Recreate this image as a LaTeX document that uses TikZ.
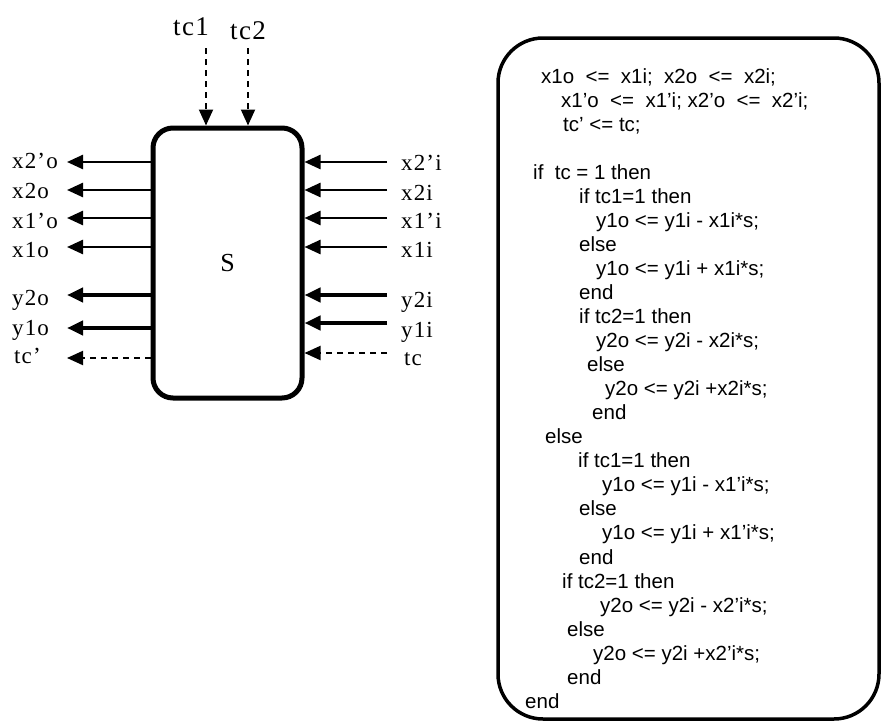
\documentclass[tikz,border=0pt]{standalone}
\usepackage{fontspec}
\setmainfont{Liberation Serif}
\newfontfamily\codefont{Liberation Sans}
\newfontfamily\lblfont[LetterSpace=5]{Liberation Serif}
\usetikzlibrary{arrows.meta}
\begin{document}
\begin{tikzpicture}[x=1pt,y=-1pt,
  lbl/.style={anchor=base west,inner sep=0pt,font=\lblfont\fontsize{23}{25}\selectfont},
  toplbl/.style={anchor=base west,inner sep=0pt,font=\lblfont\fontsize{27}{29}\selectfont},
  codeln/.style={anchor=base west,inner sep=0pt,font=\codefont\fontsize{20.5}{24}\selectfont},
  tip/.style={-{Triangle[length=16pt,width=14pt]}},
  xarr/.style={tip,line width=2.5pt},
  yarr/.style={tip,line width=4pt},
  darr/.style={tip,line width=2pt,dash pattern=on 6pt off 5pt}]
\useasboundingbox (0,0) rectangle (881,723);
% block S
\node[draw,line width=5pt,rounded corners=20pt,minimum width=149pt,minimum height=270pt,
  font=\fontsize{26}{28}\selectfont,inner sep=0pt] (S) at (227.5,263) {S};
% top inputs
\node[toplbl] (tc1) at (173,35) {tc1};
\node[toplbl] (tc2) at (230,39) {tc2};
\coordinate (a1) at (206,48);
\coordinate (a2) at (248,48);
\draw[darr] (a1) -- (a1 |- S.north);
\draw[darr] (a2) -- (a2 |- S.north);
% left outputs
\node[lbl] (lx2po) at (12,168) {x2’o};
\node[lbl] (lx2o)  at (12,198) {x2o};
\node[lbl] (lx1po) at (12,228) {x1’o};
\node[lbl] (lx1o)  at (12,257) {x1o};
\node[lbl] (ly2o)  at (12,305) {y2o};
\node[lbl] (ly1o)  at (12,335) {y1o};
\node[lbl] (ltco)  at (14,363) {tc’};
\coordinate (ox2p) at (67,162);
\coordinate (ox2)  at (67,190);
\coordinate (ox1p) at (67,218);
\coordinate (ox1)  at (67,247);
\coordinate (oy2)  at (67,295);
\coordinate (oy1)  at (67,328);
\coordinate (otc)  at (67,358);
\draw[xarr] (S.west |- ox2p) -- (ox2p);
\draw[xarr] (S.west |- ox2) -- (ox2);
\draw[xarr] (S.west |- ox1p) -- (ox1p);
\draw[xarr] (S.west |- ox1) -- (ox1);
\draw[yarr] (S.west |- oy2) -- (oy2);
\draw[yarr] (S.west |- oy1) -- (oy1);
\draw[darr] (S.west |- otc) -- (otc);
% right inputs
\node[lbl] (lx2pi) at (401,170) {x2’i};
\node[lbl] (lx2i)  at (401,200) {x2i};
\node[lbl] (lx1pi) at (401,228) {x1’i};
\node[lbl] (lx1i)  at (401,257) {x1i};
\node[lbl] (ly2i)  at (401,307) {y2i};
\node[lbl] (ly1i)  at (401,337) {y1i};
\node[lbl] (ltci)  at (404,365) {tc};
\coordinate (ix2p) at (387,162);
\coordinate (ix2)  at (387,190);
\coordinate (ix1p) at (387,218);
\coordinate (ix1)  at (387,247);
\coordinate (iy2)  at (387,295);
\coordinate (iy1)  at (387,323);
\coordinate (itc)  at (387,353);
\draw[xarr] (ix2p) -- (S.east |- ix2p);
\draw[xarr] (ix2) -- (S.east |- ix2);
\draw[xarr] (ix1p) -- (S.east |- ix1p);
\draw[xarr] (ix1) -- (S.east |- ix1);
\draw[yarr] (iy2) -- (S.east |- iy2);
\draw[yarr] (iy1) -- (S.east |- iy1);
\draw[darr] (itc) -- (S.east |- itc);
% code box
\node[draw,line width=3.5pt,rounded corners=45pt,minimum width=381pt,minimum height=681pt] (code) at (688.5,378.5) {};
\node[codeln] (c0)  at (541,83)     {x1o~~<=~~x1i;~~x2o~~<=~~x2i;};
\node[codeln] (c1)  at (561,107.05) {x1’o~~<=~~x1’i;~x2’o~~<=~~x2’i;};
\node[codeln] (c2)  at (563,131.1)  {tc’~<=~tc;};
\node[codeln] (c4)  at (533,179.2)  {if~~tc~=~1~then};
\node[codeln] (c5)  at (579,203.25) {if tc1=1 then};
\node[codeln] (c6)  at (596,227.3)  {y1o <= y1i - x1i*s;};
\node[codeln] (c7)  at (579,251.35) {else};
\node[codeln] (c8)  at (596,275.4)  {y1o <= y1i + x1i*s;};
\node[codeln] (c9)  at (579,299.45) {end};
\node[codeln] (c10) at (579,323.5)  {if tc2=1 then};
\node[codeln] (c11) at (596,347.55) {y2o <= y2i - x2i*s;};
\node[codeln] (c12) at (587,371.6)  {else};
\node[codeln] (c13) at (605,395.65) {y2o <= y2i +x2i*s;};
\node[codeln] (c14) at (592,419.7)  {end};
\node[codeln] (c15) at (545,443.75) {else};
\node[codeln] (c16) at (578,467.8)  {if tc1=1 then};
\node[codeln] (c17) at (602,491.85) {y1o <= y1i - x1’i*s;};
\node[codeln] (c18) at (579,515.9)  {else};
\node[codeln] (c19) at (602,539.95) {y1o <= y1i + x1’i*s;};
\node[codeln] (c20) at (579,564)    {end};
\node[codeln] (c21) at (562,588.05) {if tc2=1 then};
\node[codeln] (c22) at (600,612.1)  {y2o <= y2i - x2’i*s;};
\node[codeln] (c23) at (567,636.15) {else};
\node[codeln] (c24) at (593,660.2)  {y2o <= y2i +x2’i*s;};
\node[codeln] (c25) at (567,684.25) {end};
\node[codeln] (c26) at (525,708.3)  {end};
\end{tikzpicture}
\end{document}
